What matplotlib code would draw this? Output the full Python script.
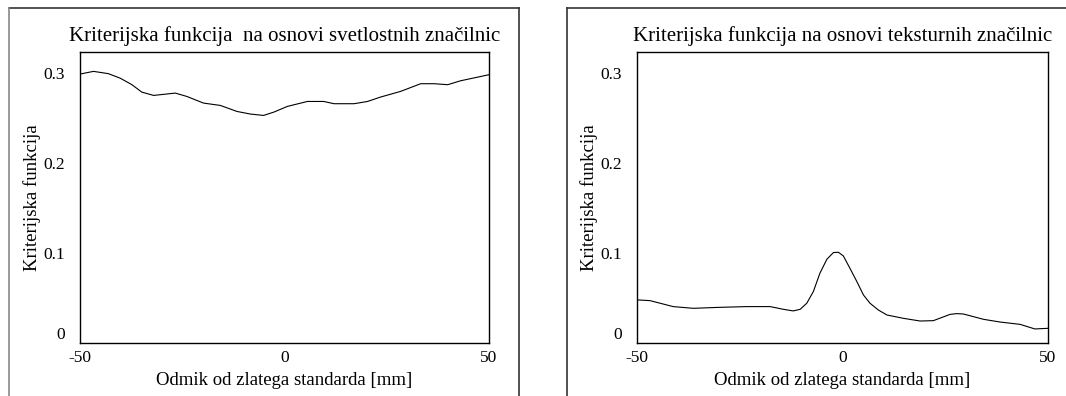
import matplotlib.pyplot as plt
from matplotlib.lines import Line2D

plt.rcParams['font.family'] = ['Liberation Serif', 'DejaVu Serif']

# odmik [mm] in kriterijska funkcija - svetlostne značilnice
odmik_svetl = [-50, -46.7, -43.1, -40.2, -37.3, -34.9, -32.0, -26.7, -23.9, -19.8,
               -15.7, -11.6, -8.3, -5.1, -2.6, 0.7, 5.6, 9.6, 12.1, 17.0,
               20.3, 23.5, 28.4, 33.3, 36.6, 39.9, 43.1, 50]
krit_svetl = [0.2985, 0.3015, 0.299, 0.294, 0.2867, 0.2785, 0.2748, 0.2774, 0.2737, 0.2663,
              0.2637, 0.257, 0.2541, 0.2526, 0.2563, 0.2626, 0.2681, 0.2681, 0.2656, 0.2656,
              0.2681, 0.273, 0.2793, 0.2878, 0.2878, 0.2867, 0.2911, 0.2978]

# teksturne značilnice
odmik_tekst = [-49.7, -46.8, -41.2, -36.3, -29.8, -23.3, -17.6, -14.4, -12.0, -10.3,
               -8.7, -7.1, -5.5, -3.8, -2.2, -1.0, 0.2, 1.8, 3.5, 5.1,
               6.7, 8.7, 10.8, 14.8, 18.9, 22.1, 26.2, 27.8, 29.4, 34.3,
               38.3, 43.2, 46.8, 50]
krit_tekst = [0.0478, 0.047, 0.0404, 0.0385, 0.0396, 0.0404, 0.0404, 0.0374, 0.0356, 0.0374,
              0.0441, 0.057, 0.0774, 0.093, 0.1004, 0.1007, 0.0967, 0.083, 0.0681, 0.0533,
              0.0441, 0.0367, 0.0311, 0.0274, 0.0244, 0.0248, 0.0318, 0.0326, 0.0322, 0.0263,
              0.0233, 0.0207, 0.0156, 0.0163]

naslovi = ['Kriterijska funkcija  na osnovi svetlostnih značilnic',
           'Kriterijska funkcija na osnovi teksturnih značilnic']
xticks = [-50, 0, 50]
yticks = [0, 0.1, 0.2, 0.3]
ytick_labels = ['0', '0.1', '0.2', '0.3']

W, H = 1066, 396
fig = plt.figure(figsize=(W / 100, H / 100), dpi=100)

def px_axes(x0, x1, y0, y1):
    return fig.add_axes([x0 / W, 1 - y1 / H, (x1 - x0) / W, (y1 - y0) / H])

ax1 = px_axes(80, 489, 52, 343)
ax2 = px_axes(637, 1048, 52, 343)

for ax, x, y, naslov in [(ax1, odmik_svetl, krit_svetl, naslovi[0]),
                         (ax2, odmik_tekst, krit_tekst, naslovi[1])]:
    ax.plot(x, y, color='black', lw=0.8)
    ax.set_xlim(-50, 50)
    ax.set_ylim(0, 0.323)
    ax.set_xticks(xticks)
    ax.set_xticklabels([str(t) for t in xticks])
    ax.set_yticks(yticks)
    ax.set_yticklabels(ytick_labels)
    ax.get_yticklabels()[0].set_va('bottom')
    ax.tick_params(length=0, labelsize=12.5)
    ax.tick_params(axis='y', pad=11)
    ax.tick_params(axis='x', pad=5)
    for s in ax.spines.values():
        s.set_linewidth(1.0)
    ax.set_title(naslov, fontsize=15, pad=8)
    ax.set_xlabel('Odmik od zlatega standarda [mm]', fontsize=13.5)
    ax.set_ylabel('Kriterijska funkcija', fontsize=13.5)
    ax.xaxis.set_label_coords(0.5, -0.1)
    ax.yaxis.set_label_coords(-0.095, 0.5)

# okvirja okoli obeh slik
def fig_line(xs, ys, color='#333333', lw=1.2):
    fig.add_artist(Line2D([v / W for v in xs], [1 - v / H for v in ys],
                          color=color, lw=lw, transform=fig.transFigure))

fig_line([9, 519], [8, 8])
fig_line([9, 9], [8, 400], color='#888888')
fig_line([519, 519], [8, 400])
fig_line([567, 1070], [8, 8])
fig_line([567, 567], [8, 400])

fig.savefig('out.png', dpi=100)
